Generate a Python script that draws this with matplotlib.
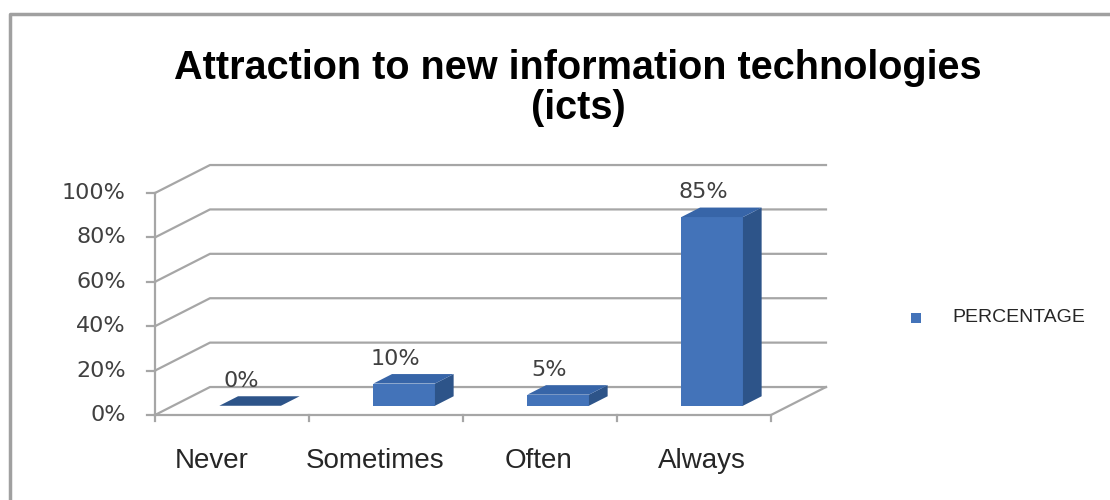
import matplotlib.pyplot as plt
from matplotlib.patches import Polygon, Rectangle

categories = ['Never', 'Sometimes', 'Often', 'Always']
values = [0, 10, 5, 85]
value_labels = ['0%', '10%', '5%', '85%']
y_ticks = [0, 20, 40, 60, 80, 100]
y_tick_labels = ['0%', '20%', '40%', '60%', '80%', '100%']
series_name = 'PERCENTAGE'
title_lines = ['Attraction to new information technologies', '(icts)']

# fake 3d: oblique offset of the back wall (x in category units, y in %)
DX, DY = 0.357, 12.6
BAR_W = 0.4
FRONT, BACK = 0.33, 0.67   # bar depth as fraction of floor depth

c_front = '#4373b9'
c_side = '#2d5489'
c_top = '#3765a8'
grid_c = '#a6a6a6'
text_c = '#404040'

fig = plt.figure(figsize=(11.1, 5), dpi=100)
ax = fig.add_axes([0, 0, 1, 1])
# 1 category = 154 px, 1% = 2.22 px, origin at pixel (155, 415)
ax.set_xlim(-155 / 154, (1110 - 155) / 154)
ax.set_ylim((415 - 500) / 2.22, 415 / 2.22)
ax.axis('off')

n = len(categories)

# back wall gridlines + diagonals
for v, lab in zip(y_ticks, y_tick_labels):
    ax.plot([0, DX, n + DX], [v, v + DY, v + DY], color=grid_c, lw=1.6, zorder=1)
    ax.plot([-0.052, 0], [v, v], color=grid_c, lw=1.6, zorder=1)
    ax.text(-0.19, v, lab, ha='right', va='center',
            fontsize=16, color=text_c, family='DejaVu Sans')

# front axis and floor
ax.plot([0, 0], [0, 100], color=grid_c, lw=1.6, zorder=1)
ax.plot([0, n, n + DX], [0, 0, DY], color=grid_c, lw=1.6, zorder=1)
for i in range(n + 1):
    ax.plot([i, i], [0, -2.7], color=grid_c, lw=1.6, zorder=1)

fx, fy = FRONT * DX, FRONT * DY
bx, by = BACK * DX, BACK * DY
for i, (cat, v) in enumerate(zip(categories, values)):
    c = i + 0.5
    x0, x1 = c - BAR_W / 2, c + BAR_W / 2
    top = [(x0 + fx, v + fy), (x1 + fx, v + fy), (x1 + bx, v + by), (x0 + bx, v + by)]
    if v > 0:
        ax.add_patch(Rectangle((x0 + fx, fy), BAR_W, v, facecolor=c_front,
                               edgecolor='none', zorder=3))
        side = [(x1 + fx, fy), (x1 + bx, by), (x1 + bx, v + by), (x1 + fx, v + fy)]
        ax.add_patch(Polygon(side, closed=True, facecolor=c_side, edgecolor='none', zorder=3))
        ax.add_patch(Polygon(top, closed=True, facecolor=c_top, edgecolor='none', zorder=3))
    else:
        ax.add_patch(Polygon(top, closed=True, facecolor=c_side, edgecolor='none', zorder=3))
    ax.text(c + 0.06, v + by + 7, value_labels[i], ha='center', va='center',
            fontsize=16, color=text_c, family='DejaVu Sans', zorder=4)
    ax.text(0.37 + 1.06 * i, -20.7, cat, ha='center', va='center', fontsize=20,
            color='#262626', family='Liberation Sans')

for line, base in zip(title_lines, [79, 119]):
    fig.text(578 / 1110, 1 - base / 500, line, ha='center', va='baseline',
             fontsize=28.5, fontweight='bold', family='Liberation Sans',
             color='black')

# legend
fig.patches.append(Rectangle((911 / 1110, 1 - 323 / 500), 10 / 1110, 10 / 500,
                             transform=fig.transFigure, facecolor=c_front,
                             edgecolor='none'))
fig.text(952 / 1110, 1 - 317 / 500, series_name, ha='left', va='center',
         fontsize=14, family='Liberation Sans', color='#262626')

# outer frame (only top and left visible in the crop)
fig.lines.append(plt.Line2D([10 / 1110, 10 / 1110, 1], [0, 1 - 14 / 500, 1 - 14 / 500],
                            transform=fig.transFigure, color='#a0a0a0', lw=2.5))

fig.savefig('out.png', dpi=100)
